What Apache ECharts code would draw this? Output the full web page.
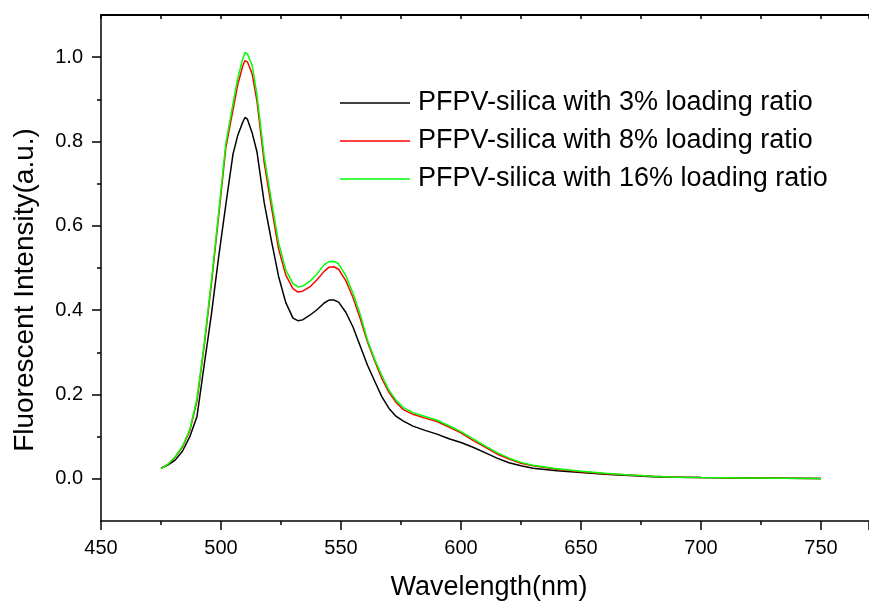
<!DOCTYPE html>
<html>
<head>
<meta charset="utf-8">
<script src="https://cdn.jsdelivr.net/npm/echarts@6/dist/echarts.min.js"></script>
<style>
html,body{margin:0;padding:0;background:#fff;}
#chart{width:869px;height:606px;}
</style>
</head>
<body>
<div id="chart"></div>
<script>
var wavelengths = [475,478,481,484,487,490,493,496,499,502,505,507,509,510,511,513,515,518,521,524,527,530,532,534,537,540,543,545,547,549,552,555,558,561,564,567,570,573,576,580,585,590,595,600,605,610,615,620,625,630,640,650,660,670,680,690,700,720,750];
var load3 = [0.025,0.033,0.045,0.066,0.100,0.148,0.270,0.390,0.525,0.650,0.770,0.815,0.845,0.857,0.853,0.820,0.775,0.655,0.565,0.480,0.418,0.381,0.375,0.377,0.388,0.401,0.417,0.424,0.424,0.419,0.395,0.360,0.315,0.270,0.232,0.195,0.167,0.148,0.137,0.125,0.115,0.106,0.095,0.086,0.075,0.062,0.049,0.038,0.031,0.025,0.019,0.015,0.011,0.008,0.005,0.004,0.003,0.002,0.001];
var load8 = [0.025,0.035,0.052,0.076,0.114,0.185,0.315,0.462,0.622,0.785,0.875,0.935,0.978,0.992,0.989,0.960,0.895,0.750,0.645,0.545,0.483,0.451,0.443,0.445,0.455,0.472,0.492,0.502,0.503,0.497,0.470,0.430,0.380,0.325,0.280,0.238,0.205,0.181,0.164,0.153,0.144,0.136,0.123,0.109,0.091,0.075,0.059,0.047,0.037,0.031,0.023,0.017,0.012,0.009,0.006,0.004,0.003,0.002,0.001];
var load16 = [0.024,0.035,0.053,0.078,0.117,0.190,0.320,0.470,0.630,0.795,0.890,0.950,0.995,1.011,1.008,0.980,0.910,0.765,0.660,0.560,0.495,0.463,0.455,0.457,0.468,0.486,0.508,0.515,0.516,0.510,0.482,0.440,0.390,0.330,0.284,0.245,0.210,0.186,0.169,0.157,0.148,0.139,0.126,0.112,0.095,0.078,0.062,0.049,0.039,0.032,0.024,0.018,0.013,0.009,0.006,0.004,0.003,0.002,0.001];
var seriesNames = ['PFPV-silica with 3% loading ratio','PFPV-silica with 8% loading ratio','PFPV-silica with 16% loading ratio'];
var seriesColors = ['#000000','#ff0000','#00ff00'];
var yTicks = [0.0,0.2,0.4,0.6,0.8,1.0];
var yMinorTicks = [0.1,0.3,0.5,0.7,0.9];
var xLabelName = 'Wavelength(nm)';
var yLabelName = 'Fluorescent Intensity(a.u.)';

function pairs(ys){ return wavelengths.map(function(x,i){ return [x, ys[i]]; }); }
var allData = [load3, load8, load16];

var font = 'Liberation Sans, Arial, Helvetica, sans-serif';
var axisLineStyle = {color:'#000', width:1.5};

var chart = echarts.init(document.getElementById('chart'), null, {renderer:'canvas'});
chart.setOption({
  animation:false,
  backgroundColor:'#fff',
  grid:{left:101, right:0, top:15, bottom:84, containLabel:false},
  legend:{
    orient:'vertical', left:340, top:89.5, padding:0,
    icon:'rect', itemWidth:70, itemHeight:1.5, itemGap:11,
    textStyle:{fontFamily:font, fontSize:27, color:'#000', padding:[0,0,0,3]},
    data:seriesNames.map(function(n,i){ return {name:n, icon:'rect', itemStyle:{color:seriesColors[i]}}; })
  },
  xAxis:[{
    type:'value', min:450, max:770, interval:50, position:'bottom',
    name:xLabelName, nameLocation:'middle', nameGap:53,
    nameTextStyle:{fontFamily:font, fontSize:27, color:'#000', padding:[0,0,0,8]},
    axisLine:{show:true, onZero:false, lineStyle:axisLineStyle},
    axisTick:{show:true, inside:false, length:9, lineStyle:{color:'#000', width:1.5}},
    minorTick:{show:true, splitNumber:2, length:4, lineStyle:{color:'#000', width:1.5}},
    axisLabel:{fontFamily:font, fontSize:20, color:'#000', margin:17, showMaxLabel:false, showMinLabel:true},
    splitLine:{show:false}
  },{
    type:'value', min:450, max:770, interval:25, position:'top',
    axisLine:{show:true, onZero:false, lineStyle:{color:'#000', width:2}},
    axisTick:{show:true, inside:true, length:4, lineStyle:{color:'#000', width:1.5}},
    axisLabel:{show:false}, splitLine:{show:false}
  }],
  yAxis:[{
    type:'value', min:-0.1, max:1.1, position:'left',
    name:yLabelName, nameLocation:'middle', nameGap:62,
    nameTextStyle:{fontFamily:font, fontSize:28, color:'#000', padding:[0,44,0,0]},
    axisLine:{show:true, onZero:false, lineStyle:axisLineStyle},
    axisTick:{show:true, length:9, customValues:yTicks, lineStyle:{color:'#000', width:1.5}},
    axisLabel:{fontFamily:font, fontSize:20, color:'#000', margin:18, customValues:yTicks,
      formatter:function(v){ return Number(v).toFixed(1); }},
    splitLine:{show:false}
  },{
    type:'value', min:-0.1, max:1.1, position:'left',
    axisLine:{show:false, onZero:false},
    axisTick:{show:true, length:4, customValues:yMinorTicks, lineStyle:{color:'#000', width:1.5}},
    axisLabel:{show:false}, splitLine:{show:false}
  }],
  series: seriesNames.map(function(n,i){
    return {
      name:n, type:'line', xAxisIndex:0, yAxisIndex:0,
      data:pairs(allData[i]), symbol:'none', smooth:false,
      lineStyle:{color:seriesColors[i], width:1.5},
      itemStyle:{color:seriesColors[i]}
    };
  })
});
</script>
</body>
</html>
